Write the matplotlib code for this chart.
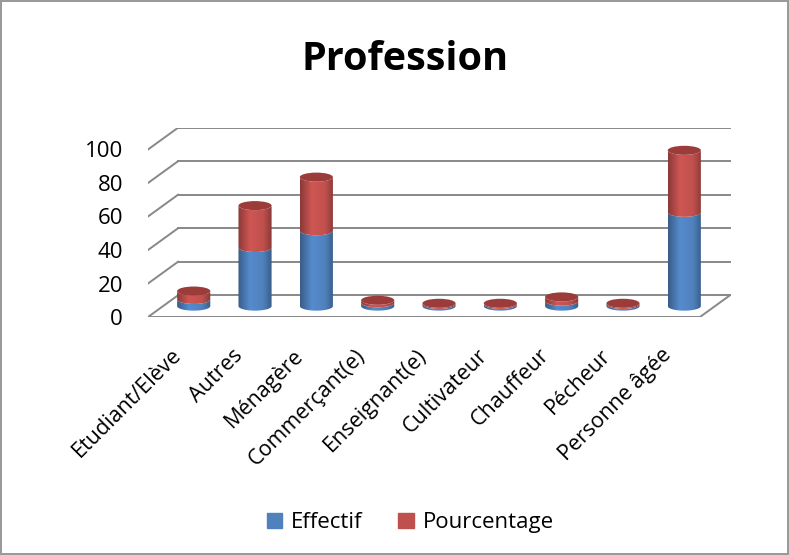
import matplotlib.pyplot as plt
import numpy as np
from matplotlib.path import Path
from matplotlib.patches import PathPatch, Ellipse, Patch
from matplotlib.colors import LinearSegmentedColormap, to_rgb

plt.rcParams['font.family'] = ['Open Sans', 'DejaVu Sans']

categories = ['Etudiant/Elève', 'Autres', 'Ménagère', 'Commerçant(e)', 'Enseignant(e)',
              'Cultivateur', 'Chauffeur', 'Pécheur', 'Personne âgée']
effectif = [4, 35, 45, 2, 1, 1, 3, 1, 56]
pourcentage = [5, 25, 32, 1.5, 0.7, 0.7, 2.5, 0.7, 37]
series = ['Effectif', 'Pourcentage']
yticks = [0, 20, 40, 60, 80, 100]

blue = '#4F81BD'
red = '#C0504D'
grid_col = '#888888'

# depth of the fake 3D box (category units / value units)
dx, dy = 0.49, 13.0
bar_w = 0.54
ell_h = 5.4

fig = plt.figure(figsize=(7.89, 5.55), dpi=100)
fig.patch.set_edgecolor('#9a9a9a')
fig.patch.set_linewidth(1.5)
ax = fig.add_axes([0.1876, 0.4288, 0.7384, 0.3411])
for s in ax.spines.values():
    s.set_visible(False)

n = len(categories)
x0, x1 = -0.5, n - 0.5

# back wall gridlines + left edge diagonals
for v in yticks:
    ax.plot([x0 + dx, x1 + dx], [v + dy, v + dy], color=grid_col, lw=1.4, zorder=1)
    ax.plot([x0, x0 + dx], [v, v + dy], color=grid_col, lw=1.4, zorder=1)
# floor outline
ax.plot([x0, x1], [0, 0], color=grid_col, lw=1.4, zorder=1)
ax.plot([x1, x1 + dx], [0, dy], color=grid_col, lw=1.4, zorder=1)


def shade_cmap(c):
    rgb = np.array(to_rgb(c))
    dark = rgb * 0.72
    light = np.clip(rgb * 1.08, 0, 1)
    return LinearSegmentedColormap.from_list('s', [(0, dark), (0.35, light), (0.75, rgb), (1, dark)])


grad = np.linspace(0, 1, 64).reshape(1, -1)


def segment(xc, ya, yb, color, z):
    # cylinder slice: front half of the bottom ellipse up to front half of the top one
    t = np.linspace(np.pi, 2 * np.pi, 40)
    ex = xc + bar_w / 2 * np.cos(t)
    ey = ell_h / 2 * np.sin(t)
    pts = np.concatenate([np.column_stack([ex, ya + ey]),
                          np.column_stack([ex[::-1], yb + ey[::-1]])])
    patch = PathPatch(Path(np.vstack([pts, pts[:1]]), closed=True), fc='none', ec='none', zorder=z)
    ax.add_patch(patch)
    im = ax.imshow(grad, cmap=shade_cmap(color), aspect='auto', zorder=z,
                   extent=[xc - bar_w / 2, xc + bar_w / 2, ya - ell_h, yb + ell_h])
    im.set_clip_path(patch)


for i in range(n):
    xc = i + dx / 2
    base = dy / 2
    top1 = base + effectif[i]
    top2 = top1 + pourcentage[i]
    segment(xc, base, top1, blue, 3)
    segment(xc, top1, top2, red, 4)
    ax.add_patch(Ellipse((xc, top2), bar_w, ell_h, fc='#9B3C3A', ec='none', zorder=5))

ax.set_xlim(-0.5, 9.0)
ax.set_ylim(0, 113)

ax.set_yticks(yticks)
ax.set_yticklabels([str(v) for v in yticks], fontsize=16)
# labels sit slightly left of the front edge of each category slot
ax.set_xticks(np.arange(n) - 0.13)
ax.set_xticklabels(categories, fontsize=15.5, rotation=45, ha='right', va='top',
                   rotation_mode='anchor')
ax.tick_params(length=0)
ax.tick_params(axis='y', pad=18)
ax.tick_params(axis='x', pad=20)

fig.text(0.513, 0.892, 'Profession', ha='center', va='center', fontsize=28.5, fontweight='bold')

handles = [Patch(color=blue, label=series[0]), Patch(color=red, label=series[1])]
fig.legend(handles=handles, loc='center', bbox_to_anchor=(0.52, 0.058), ncol=2, frameon=False,
           fontsize=16, handlelength=0.7, handleheight=0.7, handletextpad=0.4, columnspacing=1.6)

fig.savefig('out.png', dpi=100)
